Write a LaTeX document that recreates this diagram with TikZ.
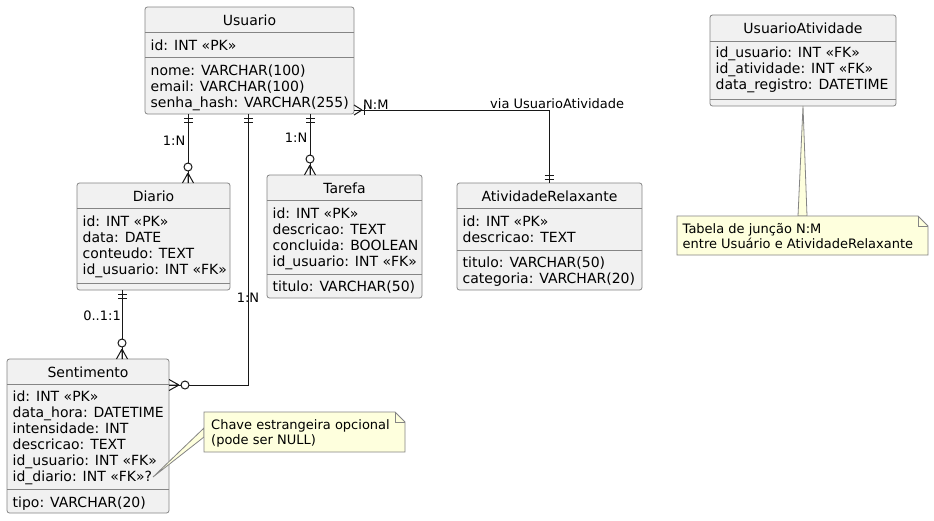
\documentclass[tikz,border=0pt]{standalone}
\usepackage{fontspec}
\setmainfont{DejaVu Sans}
\usetikzlibrary{calc}
\definecolor{entfill}{HTML}{F1F1F1}
\definecolor{lin}{HTML}{181818}
\definecolor{boxline}{HTML}{858585}
\definecolor{notefill}{HTML}{FEFFDD}
\tikzset{
  entbox/.style={draw=boxline, line width=0.8pt, fill=entfill, rounded corners=2.5pt, inner sep=0pt, outer sep=0pt, anchor=north west},
  sepline/.style={draw=boxline, line width=0.8pt},
  etitle/.style={inner sep=0pt, anchor=base, font=\fontsize{14}{16}\selectfont, text=black},
  erow/.style={inner sep=0pt, anchor=base west, font=\fontsize{14}{16}\selectfont, text=black},
  conn/.style={draw=lin, line width=1pt},
  clabel/.style={inner sep=0pt, font=\fontsize{13}{15}\selectfont, text=black},
  notebox/.style={draw=boxline, line width=0.8pt, fill=notefill},
  noteshape/.style={inner sep=0pt, outer sep=0pt, anchor=north west},
  ntext/.style={inner sep=0pt, anchor=base west, font=\fontsize{13}{15}\selectfont, text=black},
  zeromany/.pic={
    \draw[conn] (10,0) -- (0,5.5) (10,0) -- (0,-5.5) (10,0) -- (0,0);
    \draw[conn, fill=white] (16,0) circle[radius=4pt];
  },
  onlyone/.pic={
    \draw[conn] (4,-4.5) -- (4,4.5) (8,-4.5) -- (8,4.5);
  },
  onemany/.pic={
    \draw[conn] (8,0) -- (0,5) (8,0) -- (0,-5);
    \draw[conn] (10,-5) -- (10,5);
  },
}
\newcommand\mkent[5]{\node[entbox, minimum width={#4-#2}, minimum height={#5-#3}] (#1) at (#2,#3) {};}
\newcommand\mksep[2]{\draw[sepline] (#1.west |- 0,#2) -- (#1.east |- 0,#2);}
\begin{document}
\begin{tikzpicture}[x=1pt,y=-1pt]
\useasboundingbox[fill=white] (0,0) rectangle (934,520);

% ---------- Usuario ----------
\mkent{usuario}{145}{7}{354}{114}
\mksep{usuario}{32.5}
\mksep{usuario}{57.5}
\node[etitle] (ut) at (249.5,25) {Usuario};
\node[erow] (u1) at (150.5,50) {id: INT «PK»};
\node[erow] (u2) at (150.5,75.5) {nome: VARCHAR(100)};
\node[erow] (u3) at (150.5,91.5) {email: VARCHAR(100)};
\node[erow] (u4) at (150.5,107.5) {senha\_hash: VARCHAR(255)};

% ---------- Diario ----------
\mkent{diario}{77}{183}{230}{290}
\mksep{diario}{208.5}
\mksep{diario}{283}
\node[etitle] (dt) at (153.5,201) {Diario};
\node[erow] (d1) at (82.5,226.3) {id: INT «PK»};
\node[erow] (d2) at (82.5,242.5) {data: DATE};
\node[erow] (d3) at (82.5,258.7) {conteudo: TEXT};
\node[erow] (d4) at (82.5,274.9) {id\_usuario: INT «FK»};

% ---------- Tarefa ----------
\mkent{tarefa}{267}{175}{422}{298}
\mksep{tarefa}{200.5}
\mksep{tarefa}{274.5}
\node[etitle] (tt) at (344.5,193) {Tarefa};
\node[erow] (t1) at (272.5,218) {id: INT «PK»};
\node[erow] (t2) at (272.5,234.2) {descricao: TEXT};
\node[erow] (t3) at (272.5,250.4) {concluida: BOOLEAN};
\node[erow] (t4) at (272.5,266.6) {id\_usuario: INT «FK»};
\node[erow] (t5) at (272.5,291) {titulo: VARCHAR(50)};

% ---------- AtividadeRelaxante ----------
\mkent{atividade}{457}{183}{642}{290}
\mksep{atividade}{208.5}
\mksep{atividade}{250}
\node[etitle] (at) at (549.5,201) {AtividadeRelaxante};
\node[erow] (a1) at (462.5,226.3) {id: INT «PK»};
\node[erow] (a2) at (462.5,242.5) {descricao: TEXT};
\node[erow] (a3) at (462.5,267.5) {titulo: VARCHAR(50)};
\node[erow] (a4) at (462.5,283.7) {categoria: VARCHAR(20)};

% ---------- Sentimento ----------
\mkent{sentimento}{7}{359}{169}{513}
\mksep{sentimento}{384}
\mksep{sentimento}{489.5}
\node[etitle] (st) at (88,377) {Sentimento};
\node[erow] (s1) at (12.5,401.7) {id: INT «PK»};
\node[erow] (s2) at (12.5,417.7) {data\_hora: DATETIME};
\node[erow] (s3) at (12.5,433.7) {intensidade: INT};
\node[erow] (s4) at (12.5,449.7) {descricao: TEXT};
\node[erow] (s5) at (12.5,465.7) {id\_usuario: INT «FK»};
\node[erow] (s6) at (12.5,481.7) {id\_diario: INT «FK»?};
\node[erow] (s7) at (12.5,507) {tipo: VARCHAR(20)};

% ---------- UsuarioAtividade ----------
\mkent{ua}{710}{15}{896}{106}
\mksep{ua}{41.5}
\mksep{ua}{99}
\node[etitle] (uat) at (803,33) {UsuarioAtividade};
\node[erow] (ua1) at (715.5,57.5) {id\_usuario: INT «FK»};
\node[erow] (ua2) at (715.5,73.7) {id\_atividade: INT «FK»};
\node[erow] (ua3) at (715.5,89.9) {data\_registro: DATETIME};

% ---------- connectors ----------
\coordinate (c1) at (188,0);
\coordinate (c2) at (248,385);
\coordinate (c3) at (310,0);
\coordinate (c4) at (549,110);
\coordinate (c5) at (122,0);

\draw[conn] (usuario.south -| c1) -- (diario.north -| c1);
\pic[rotate=-90] at (usuario.south -| c1) {onlyone};
\pic[rotate=90] at (diario.north -| c1) {zeromany};

\draw[conn] (usuario.south -| c2) -- (c2) -- (sentimento.east |- c2);
\pic[rotate=-90] at (usuario.south -| c2) {onlyone};
\pic at (sentimento.east |- c2) {zeromany};

\draw[conn] (usuario.south -| c3) -- (tarefa.north -| c3);
\pic[rotate=-90] at (usuario.south -| c3) {onlyone};
\pic[rotate=90] at (tarefa.north -| c3) {zeromany};

\draw[conn] (usuario.east |- c4) -- (c4) -- (atividade.north -| c4);
\pic at (usuario.east |- c4) {onemany};
\pic[rotate=90] at (atividade.north -| c4) {onlyone};

\draw[conn] (diario.south -| c5) -- (sentimento.north -| c5);
\pic[rotate=-90] at (diario.south -| c5) {onlyone};
\pic[rotate=90] at (sentimento.north -| c5) {zeromany};

% ---------- connector labels ----------
\node[clabel, anchor=base east] (l1) at (185.5,145) {1:N};
\node[clabel, anchor=base] (l2) at (248,302) {1:N};
\node[clabel, anchor=base east] (l3) at (307.5,142) {1:N};
\node[clabel, anchor=base west] (l4) at (363,109) {N:M};
\node[clabel, anchor=base west] (l4b) at (490,108) {via UsuarioAtividade};
\node[clabel, anchor=base east] (l5) at (121,320) {0..1:1};

% ---------- note 1 ----------
\node[noteshape, minimum width=201pt, minimum height=40pt] (n1) at (204,412) {};
\coordinate (w1) at (153,477);
\draw[notebox] (w1) -- (n1.west |- 0,428) -- (n1.west |- 0,437) -- cycle;
\draw[notebox] (n1.north west) -- ([xshift=-10pt]n1.north east) -- ([yshift=-10pt]n1.north east) -- (n1.south east) -- (n1.south west) -- cycle;
\draw[sepline] ([xshift=-10pt]n1.north east) -- ([xshift=-10pt,yshift=-10pt]n1.north east) -- ([yshift=-10pt]n1.north east);
\node[ntext] (n1a) at (211,429.5) {Chave estrangeira opcional};
\node[ntext] (n1b) at (211,444.5) {(pode ser NULL)};

% ---------- note 2 ----------
\node[noteshape, minimum width=251pt, minimum height=39pt] (n2) at (677,216) {};
\coordinate (w2) at (803,0);
\draw[notebox] (ua.south -| w2) -- (n2.north -| 798,0) -- (n2.north -| 807,0) -- cycle;
\draw[notebox] (n2.north west) -- ([xshift=-10pt]n2.north east) -- ([yshift=-10pt]n2.north east) -- (n2.south east) -- (n2.south west) -- cycle;
\draw[sepline] ([xshift=-10pt]n2.north east) -- ([xshift=-10pt,yshift=-10pt]n2.north east) -- ([yshift=-10pt]n2.north east);
\node[ntext] (n2a) at (682.5,233.5) {Tabela de junção N:M};
\node[ntext] (n2b) at (682.5,248.5) {entre Usuário e AtividadeRelaxante};
\end{tikzpicture}
\end{document}
